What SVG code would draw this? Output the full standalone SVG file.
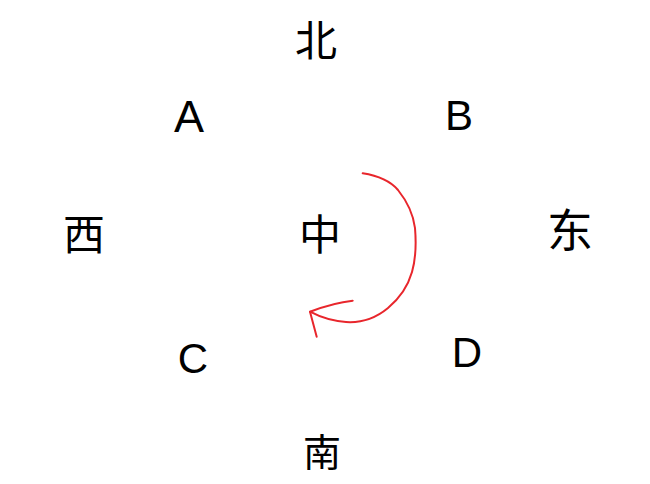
<svg xmlns="http://www.w3.org/2000/svg" width="650" height="484" viewBox="0 0 650 484">
<style>
.cjk{font-family:"Noto Sans CJK SC","Liberation Sans",sans-serif;font-size:42px;fill:#000;text-anchor:middle}
.lat{font-family:"Liberation Sans",Arial,sans-serif;font-size:42px;fill:#000;text-anchor:middle}
.arrow{fill:none;stroke:#e8262c;stroke-width:2;stroke-linecap:round;stroke-linejoin:round}
</style>
<rect width="650" height="484" fill="#fff"/>
<g id="node-north"><text class="cjk" x="316" y="56">北</text></g>
<g id="node-A"><text class="lat" x="189" y="132" style="font-size:45px">A</text></g>
<g id="node-B"><text class="lat" x="459" y="130">B</text></g>
<g id="node-west"><text class="cjk" x="84" y="250">西</text></g>
<g id="node-center"><text class="cjk" x="320" y="250">中</text></g>
<g id="node-east"><text class="cjk" x="570" y="247" style="font-size:46px">东</text></g>
<g id="node-C"><text class="lat" x="193" y="373">C</text></g>
<g id="node-D"><text class="lat" x="467" y="367">D</text></g>
<g id="node-south"><text class="cjk" x="322" y="466" style="font-size:38px">南</text></g>
<g id="connectors">
<path class="arrow" d="M362.7,173.3 C380,176 392,183 398,190 C406,200 413,212 415,228 C416,240 416,258 412,272 C408,286 400,298 388,308 C376,318 362,323 346,322 C332,321 320,317 310,311.7"/>
<path class="arrow" d="M352.7,300.7 C340,302 325,306 310,311.7 L316.7,336.7"/>
</g>
</svg>
